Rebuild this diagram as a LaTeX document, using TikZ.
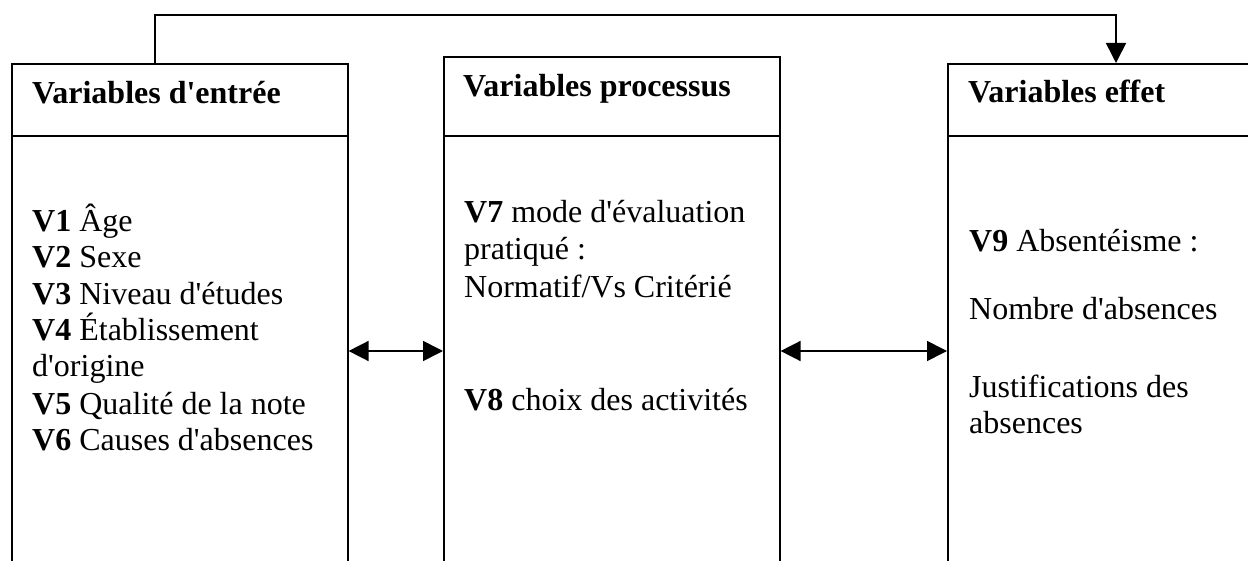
\documentclass[tikz,border=0pt]{standalone}
\usepackage{fontspec}
\setmainfont{Liberation Serif}[Ligatures=TeXOff]
\usetikzlibrary{arrows.meta}
\begin{document}
\begin{tikzpicture}[x=1pt,y=-1pt,
  frame/.style={draw, line width=1.6pt, inner sep=0pt, anchor=north west},
  txt/.style={anchor=base west, inner sep=0pt, font=\fontsize{32}{36}\selectfont},
  hd/.style={anchor=base west, inner sep=0pt, font=\fontsize{32}{36}\selectfont\bfseries},
  tip/.style={line width=1.6pt, -{Triangle[length=20pt,width=20pt]}},
  link/.style={line width=1.6pt, {Triangle[length=20pt,width=20pt]}-{Triangle[length=20pt,width=20pt]}}
]
\useasboundingbox (0,0) rectangle (1248,561);
\clip (0,0) rectangle (1248,561);
% boxes
\node[frame, minimum width=336pt, minimum height=72pt] (h1) at (11,63) {};
\node[frame, minimum width=336pt, minimum height=500pt] (b1) at (11,135) {};
\node[frame, minimum width=336pt, minimum height=79pt] (h2) at (443,56) {};
\node[frame, minimum width=336pt, minimum height=500pt] (b2) at (443,135) {};
\node[frame, minimum width=400pt, minimum height=72pt] (h3) at (947,63) {};
\node[frame, minimum width=400pt, minimum height=500pt] (b3) at (947,135) {};
% headers
\node[hd] (t1) at (32,104) {Variables d'entrée};
\node[hd] (t2) at (463,97) {Variables processus};
\node[hd] (t3) at (968,103) {Variables effet};
% left body
\node[txt] (l1) at (32,232) {\textbf{V1} Âge};
\node[txt] (l2) at (32,268) {\textbf{V2} Sexe};
\node[txt] (l3) at (32,305) {\textbf{V3} Niveau d'études};
\node[txt] (l4) at (32,341) {\textbf{V4} Établissement};
\node[txt] (l5) at (32,377) {d'origine};
\node[txt] (l6) at (32,414) {\textbf{V5} Qualité de la note};
\node[txt] (l7) at (32,450) {\textbf{V6} Causes d'absences};
% middle body
\node[txt] (m1) at (464,223) {\textbf{V7} mode d'évaluation};
\node[txt] (m2) at (464,260) {pratiqué :};
\node[txt] (m3) at (464,298) {Normatif/Vs Critérié};
\node[txt] (m4) at (464,410) {\textbf{V8} choix des activités};
% right body
\node[txt] (r1) at (969,252) {\textbf{V9} Absentéisme :};
\node[txt] (r2) at (969,320) {Nombre d'absences};
\node[txt] (r3) at (969,397) {Justifications des};
\node[txt] (r4) at (969,433) {absences};
% connectors
\coordinate (ya) at (0,351);
\draw[link] (b1.east |- ya) -- (b2.west |- ya);
\draw[link] (b2.east |- ya) -- (b3.west |- ya);
\draw[tip] ([xshift=144pt]h1.north west) -- ++(0,-48) -| ([xshift=169pt]h3.north west);
\end{tikzpicture}
\end{document}
